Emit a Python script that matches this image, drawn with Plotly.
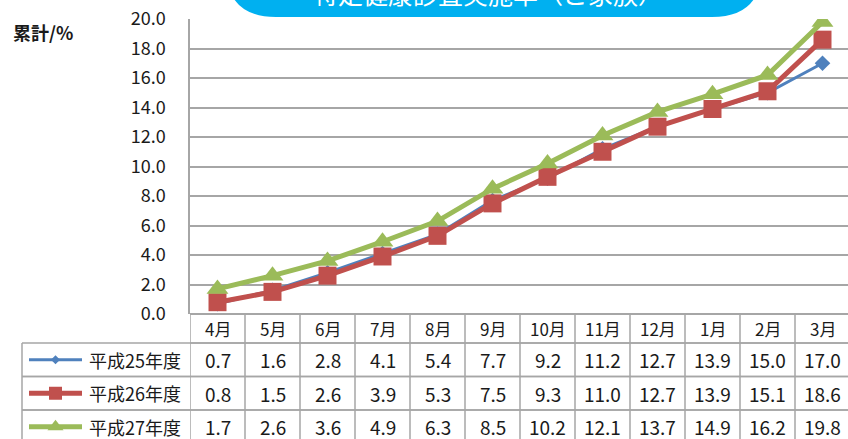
import plotly.graph_objects as go

months = ["4月", "5月", "6月", "7月", "8月", "9月", "10月", "11月", "12月", "1月", "2月", "3月"]
series_names = ["平成25年度", "平成26年度", "平成27年度"]
h25 = [0.7, 1.6, 2.8, 4.1, 5.4, 7.7, 9.2, 11.2, 12.7, 13.9, 15.0, 17.0]
h26 = [0.8, 1.5, 2.6, 3.9, 5.3, 7.5, 9.3, 11.0, 12.7, 13.9, 15.1, 18.6]
h27 = [1.7, 2.6, 3.6, 4.9, 6.3, 8.5, 10.2, 12.1, 13.7, 14.9, 16.2, 19.8]
title_text = "特定健康診査実施率（ご家族）"
y_label = "累計/%"

W, H = 848, 439
FONT = "Noto Sans CJK JP"
GRID = "#A6A6A6"
TXT = "#1a1a1a"
colors = ["#4F81BD", "#C0504D", "#9BBB59"]
symbols = ["diamond", "square", "triangle-up"]
msizes = [12, 18, 19]
lwidths = [3, 5, 5]
values = [h25, h26, h27]

# pixel layout
plot_left, plot_top, plot_bottom = 190, 19, 314
col_w = 55
month_row = (314, 343)
rows = [(343, 376.5), (376.5, 410), (410, 443.5)]
table_left = 22

fig = go.Figure()
x_idx = list(range(len(months)))
for name, vals, c, s, ms, lw in zip(series_names, values, colors, symbols, msizes, lwidths):
    fig.add_trace(go.Scatter(
        x=x_idx, y=vals, mode="lines+markers", name=name,
        line=dict(color=c, width=lw),
        marker=dict(symbol=s, size=ms, color=c, line=dict(width=0)),
        xaxis="x", yaxis="y", showlegend=False, hoverinfo="skip"))

# legend symbols inside the data table (pixel axes)
for (r0, r1), c, s, ms, lw in zip(rows, colors, symbols, msizes, lwidths):
    yc = (r0 + r1) / 2
    fig.add_trace(go.Scatter(
        x=[29, 82], y=[yc, yc], mode="lines", line=dict(color=c, width=lw),
        xaxis="x2", yaxis="y2", showlegend=False, hoverinfo="skip"))
    fig.add_trace(go.Scatter(
        x=[55.5], y=[yc], mode="markers",
        marker=dict(symbol=s, size=ms - 5, color=c, line=dict(width=0)),
        xaxis="x2", yaxis="y2", showlegend=False, hoverinfo="skip"))

shapes = []
line_style = dict(color=GRID, width=1.5)
# title rounded box
L, R, T, B, r = 226, 762, -40, 17, 50
path = (f"M {L},{T} L {L},{B - r} Q {L},{B} {L + r},{B} L {R - r},{B} "
        f"Q {R},{B} {R},{B - r} L {R},{T} Z")
shapes.append(dict(type="path", path=path, xref="x2", yref="y2",
                   fillcolor="#00B0F0", line=dict(width=0), layer="above"))
# table horizontal lines
shapes.append(dict(type="line", xref="x", yref="y2", x0=-0.5, x1=11.6,
                   y0=month_row[1], y1=month_row[1], line=line_style))
for (r0, r1) in rows:
    shapes.append(dict(type="line", xref="x2", yref="y2", x0=table_left, x1=W + 5,
                       y0=r0, y1=r0, line=line_style))
    shapes.append(dict(type="line", xref="x2", yref="y2", x0=table_left, x1=W + 5,
                       y0=r1, y1=r1, line=line_style))
# table vertical lines
for k in range(len(months) + 1):
    shapes.append(dict(type="line", xref="x", yref="y2", x0=k - 0.5, x1=k - 0.5,
                       y0=plot_bottom, y1=H + 5, line=line_style))
shapes.append(dict(type="line", xref="x2", yref="y2", x0=table_left, x1=table_left,
                   y0=rows[0][0], y1=H + 5, line=line_style))

annotations = []
annotations.append(dict(text=title_text, xref="x2", yref="y2", x=488, y=0,
                        yanchor="middle", yshift=7, showarrow=False,
                        font=dict(family=FONT, size=25, color="white")))
annotations.append(dict(text=f"<b>{y_label}</b>", xref="x2", yref="y2", x=11, y=32,
                        xanchor="left", yanchor="middle", showarrow=False,
                        font=dict(family=FONT, size=18, color=TXT)))
for i, m in enumerate(months):
    annotations.append(dict(text=m, xref="x", yref="y2", x=i, y=sum(month_row) / 2,
                            showarrow=False, yanchor="middle",
                            font=dict(family=FONT, size=17, color=TXT)))
for name, vals, (r0, r1) in zip(series_names, values, rows):
    yc = (r0 + r1) / 2
    annotations.append(dict(text=name, xref="x2", yref="y2", x=87, y=yc,
                            xanchor="left", yanchor="middle", showarrow=False,
                            font=dict(family=FONT, size=18, color=TXT)))
    for i, v in enumerate(vals):
        annotations.append(dict(text=f"{v:.1f}", xref="x", yref="y2", x=i, y=yc,
                                yanchor="middle", showarrow=False,
                                font=dict(family=FONT, size=19, color=TXT)))

fig.update_layout(
    width=W, height=H, margin=dict(l=0, r=0, t=0, b=0, autoexpand=False),
    paper_bgcolor="white", plot_bgcolor="rgba(0,0,0,0)",
    hovermode=False,
    xaxis=dict(domain=[plot_left / W, 1], range=[-0.5, (W - plot_left) / col_w - 0.5],
               showgrid=False, zeroline=False, showticklabels=False, showline=False,
               anchor="y", fixedrange=True, automargin=False),
    yaxis=dict(domain=[(H - plot_bottom) / H, (H - plot_top) / H], range=[0, 20],
               dtick=2, tick0=0, tickformat=".1f", showgrid=True, gridcolor=GRID,
               gridwidth=1.5, zeroline=True, zerolinecolor=GRID, zerolinewidth=1.5,
               showline=True, linecolor=GRID, linewidth=1.5, ticks="",
               ticklabelstandoff=19, anchor="x", automargin=False,
               tickfont=dict(family=FONT, size=18, color=TXT), fixedrange=True),
    xaxis2=dict(domain=[0, 1], range=[0, W], visible=False, anchor="y2",
                fixedrange=True, automargin=False),
    yaxis2=dict(domain=[0, 1], range=[H, 0], visible=False, anchor="x2",
                fixedrange=True, automargin=False),
    shapes=shapes, annotations=annotations,
)
fig.write_html("out.html")
